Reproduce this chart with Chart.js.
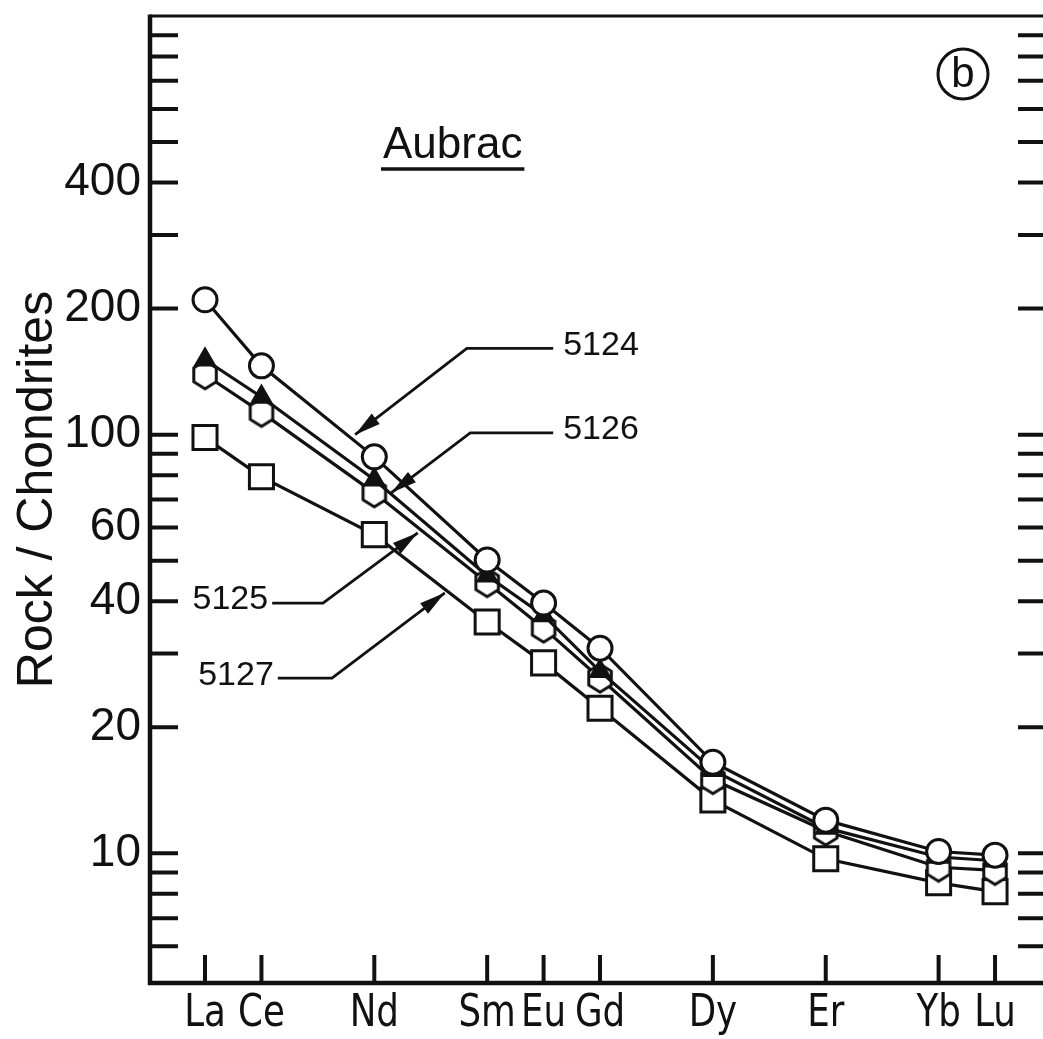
<!DOCTYPE html>
<html>
<head>
<meta charset="utf-8">
<script src="https://cdn.jsdelivr.net/npm/chart.js@4.4.0/dist/chart.umd.min.js"></script>
<style>
html, body { margin: 0; padding: 0; background: #fff; overflow: hidden; }
#wrap { position: relative; width: 1043px; height: 1039px; }
canvas { display: block; }
</style>
</head>
<body>
<div id="wrap"><canvas id="reeChart" width="1043" height="1039"></canvas></div>
<script>
// REE pattern, chondrite normalised - Aubrac (b)
const elements = ['La', 'Ce', 'Nd', 'Sm', 'Eu', 'Gd', 'Dy', 'Er', 'Yb', 'Lu'];
const elementPos = [0, 1, 3, 5, 6, 7, 9, 11, 13, 14]; // place in the REE series (Pr, Pm, Tb... left out)

const s5124 = [210, 146, 88.5, 50.2, 39.6, 30.9, 16.5, 12.0, 10.1, 9.9];
const s5126 = [151, 123, 78, 46, 37, 27.2, 15.8, 11.5, 9.8, 9.6];
const s5125 = [139, 113, 72.6, 44.3, 34.5, 26.2, 15.0, 11.3, 9.26, 9.1];
const s5127 = [98.4, 79.3, 57.7, 35.7, 28.5, 22.2, 13.4, 9.7, 8.5, 8.1];

const yTicks = [6, 7, 8, 9, 10, 20, 30, 40, 50, 60, 70, 80, 90, 100, 200, 300, 400, 500, 600, 700, 800, 900];
const yTickLabels = [10, 20, 40, 60, 100, 200, 400];

// sample number callouts: label, side of text, leader path [x, y] in data units (last point = arrow tip)
const callouts = [
  { text: '5124', side: 'right', path: [[6.17, 160.7], [4.64, 160.7], [2.66, 100]] },
  { text: '5126', side: 'right', path: [[6.17, 101], [4.70, 101], [3.30, 72.6]] },
  { text: '5125', side: 'left', path: [[1.19, 39.6], [2.09, 39.6], [3.77, 58.3]] },
  { text: '5127', side: 'left', path: [[1.29, 26.2], [2.25, 26.2], [4.25, 41.9]] }
];

function toPoints(vals) {
  return vals.map((v, i) => ({ x: elementPos[i], y: v }));
}

// open hexagon marker
const hex = document.createElement('canvas');
hex.width = 32; hex.height = 34;
(function () {
  const c = hex.getContext('2d');
  c.beginPath();
  for (let k = 0; k < 6; k++) {
    const a = Math.PI / 2 + k * Math.PI / 3;
    const px = 16 + 13 * Math.cos(a), py = 17 + 14 * Math.sin(a);
    k ? c.lineTo(px, py) : c.moveTo(px, py);
  }
  c.closePath();
  c.fillStyle = '#fff';
  c.fill();
  c.lineWidth = 3;
  c.strokeStyle = '#111';
  c.stroke();
})();

const frame = {
  id: 'frame',
  beforeDatasetsDraw(chart) {
    const ctx = chart.ctx, a = chart.chartArea;
    const xs = chart.scales.x, ys = chart.scales.y;
    const rightEdge = a.right + 3; // right frame line sits just past the picture edge
    ctx.save();
    ctx.strokeStyle = '#111';
    ctx.lineCap = 'butt';
    // box
    ctx.lineWidth = 3;
    ctx.beginPath();
    ctx.moveTo(a.left, a.top); ctx.lineTo(rightEdge, a.top);
    ctx.stroke();
    ctx.lineWidth = 4.5;
    ctx.beginPath();
    ctx.moveTo(a.left, a.top - 1.5); ctx.lineTo(a.left, a.bottom);
    ctx.lineTo(rightEdge, a.bottom);
    ctx.stroke();
    // inward ticks
    ctx.lineWidth = 4;
    yTicks.forEach(v => {
      const y = ys.getPixelForValue(v);
      ctx.beginPath();
      ctx.moveTo(a.left, y); ctx.lineTo(a.left + 28, y);
      ctx.moveTo(rightEdge, y); ctx.lineTo(rightEdge - 28, y);
      ctx.stroke();
    });
    elementPos.forEach(p => {
      const x = xs.getPixelForValue(p);
      ctx.beginPath();
      ctx.moveTo(x, a.bottom); ctx.lineTo(x, a.bottom - 28);
      ctx.stroke();
    });
    // tick labels
    ctx.fillStyle = '#111';
    ctx.font = '46px "Liberation Sans", Arial, sans-serif';
    ctx.textAlign = 'right';
    ctx.textBaseline = 'middle';
    yTickLabels.forEach(v => ctx.fillText(String(v), a.left - 9, ys.getPixelForValue(v)));
    ctx.font = '44px "Liberation Sans Narrow", "DejaVu Sans Condensed", sans-serif';
    ctx.textAlign = 'center';
    elements.forEach((e, i) => {
      ctx.save();
      ctx.translate(xs.getPixelForValue(elementPos[i]), a.bottom + 32);
      ctx.scale(0.9, 1);
      ctx.fillText(e, 0, 0);
      ctx.restore();
    });
    // axis title
    ctx.save();
    ctx.translate(38, ys.getPixelForValue(60) - 38);
    ctx.rotate(-Math.PI / 2);
    ctx.font = '50px "Liberation Sans", Arial, sans-serif';
    ctx.fillText('Rock / Chondrites', 0, 0);
    ctx.restore();
    ctx.restore();
  },
  afterDatasetsDraw(chart) {
    const ctx = chart.ctx, a = chart.chartArea;
    const xs = chart.scales.x, ys = chart.scales.y;
    ctx.save();
    ctx.fillStyle = '#111';
    ctx.strokeStyle = '#111';
    // locality title
    ctx.font = '44px "Liberation Sans", Arial, sans-serif';
    ctx.textAlign = 'left';
    ctx.textBaseline = 'alphabetic';
    ctx.fillText('Aubrac', a.left + 233, a.top + 142);
    const w = ctx.measureText('Aubrac').width;
    ctx.lineWidth = 3.5;
    ctx.beginPath();
    ctx.moveTo(a.left + 231, a.top + 153); ctx.lineTo(a.left + 235 + w, a.top + 153);
    ctx.stroke();
    // circled b
    ctx.lineWidth = 3;
    ctx.beginPath();
    ctx.arc(a.right - 80, a.top + 58, 25, 0, Math.PI * 2);
    ctx.stroke();
    ctx.font = '42px "Liberation Sans Narrow", sans-serif';
    ctx.textAlign = 'center';
    ctx.textBaseline = 'middle';
    ctx.fillText('b', a.right - 80, a.top + 59);
    // callouts
    ctx.font = '34px "Liberation Sans", Arial, sans-serif';
    callouts.forEach(c => {
      const pts = c.path.map(p => [xs.getPixelForValue(p[0]), ys.getPixelForValue(p[1])]);
      ctx.lineWidth = 2.8;
      ctx.beginPath();
      ctx.moveTo(pts[0][0], pts[0][1]);
      for (let k = 1; k < pts.length; k++) ctx.lineTo(pts[k][0], pts[k][1]);
      ctx.stroke();
      const tip = pts[pts.length - 1], prev = pts[pts.length - 2];
      const ang = Math.atan2(tip[1] - prev[1], tip[0] - prev[0]);
      ctx.beginPath();
      ctx.moveTo(tip[0], tip[1]);
      ctx.lineTo(tip[0] - 26 * Math.cos(ang) + 6.5 * Math.sin(ang), tip[1] - 26 * Math.sin(ang) - 6.5 * Math.cos(ang));
      ctx.lineTo(tip[0] - 26 * Math.cos(ang) - 6.5 * Math.sin(ang), tip[1] - 26 * Math.sin(ang) + 6.5 * Math.cos(ang));
      ctx.closePath();
      ctx.fill();
      ctx.textBaseline = 'middle';
      if (c.side === 'right') {
        ctx.textAlign = 'left';
        ctx.fillText(c.text, pts[0][0] + 10, pts[0][1] - 3);
      } else {
        ctx.textAlign = 'right';
        ctx.fillText(c.text, pts[0][0] - 4, pts[0][1] - 3);
      }
    });
    ctx.restore();
  }
};

const ctx = document.getElementById('reeChart').getContext('2d');
const chart = new Chart(ctx, {
  type: 'scatter',
  data: {
    datasets: [
      { label: '5124', data: toPoints(s5124), pointStyle: 'circle', pointRadius: 12, backgroundColor: '#fff' },
      { label: '5126', data: toPoints(s5126), pointStyle: 'triangle', pointRadius: 10.5, backgroundColor: '#111' },
      { label: '5125', data: toPoints(s5125), pointStyle: hex, backgroundColor: '#fff' },
      { label: '5127', data: toPoints(s5127), pointStyle: 'rect', pointRadius: 17, backgroundColor: '#fff' }
    ].map(d => Object.assign({
      showLine: true,
      borderColor: '#111',
      borderWidth: 3.2,
      pointBorderWidth: 3,
      pointBorderColor: '#111',
      pointBackgroundColor: d.backgroundColor,
      tension: 0
    }, d))
  },
  options: {
    responsive: false,
    animation: false,
    events: [],
    layout: { autoPadding: false, padding: { left: 150, right: 0, top: 16, bottom: 56 } },
    plugins: { legend: { display: false }, tooltip: { enabled: false } },
    scales: {
      x: { type: 'linear', min: -0.975, max: 14.85, display: false },
      y: { type: 'logarithmic', min: 4.9, max: 1000, display: false }
    }
  },
  plugins: [frame]
});
</script>
</body>
</html>
